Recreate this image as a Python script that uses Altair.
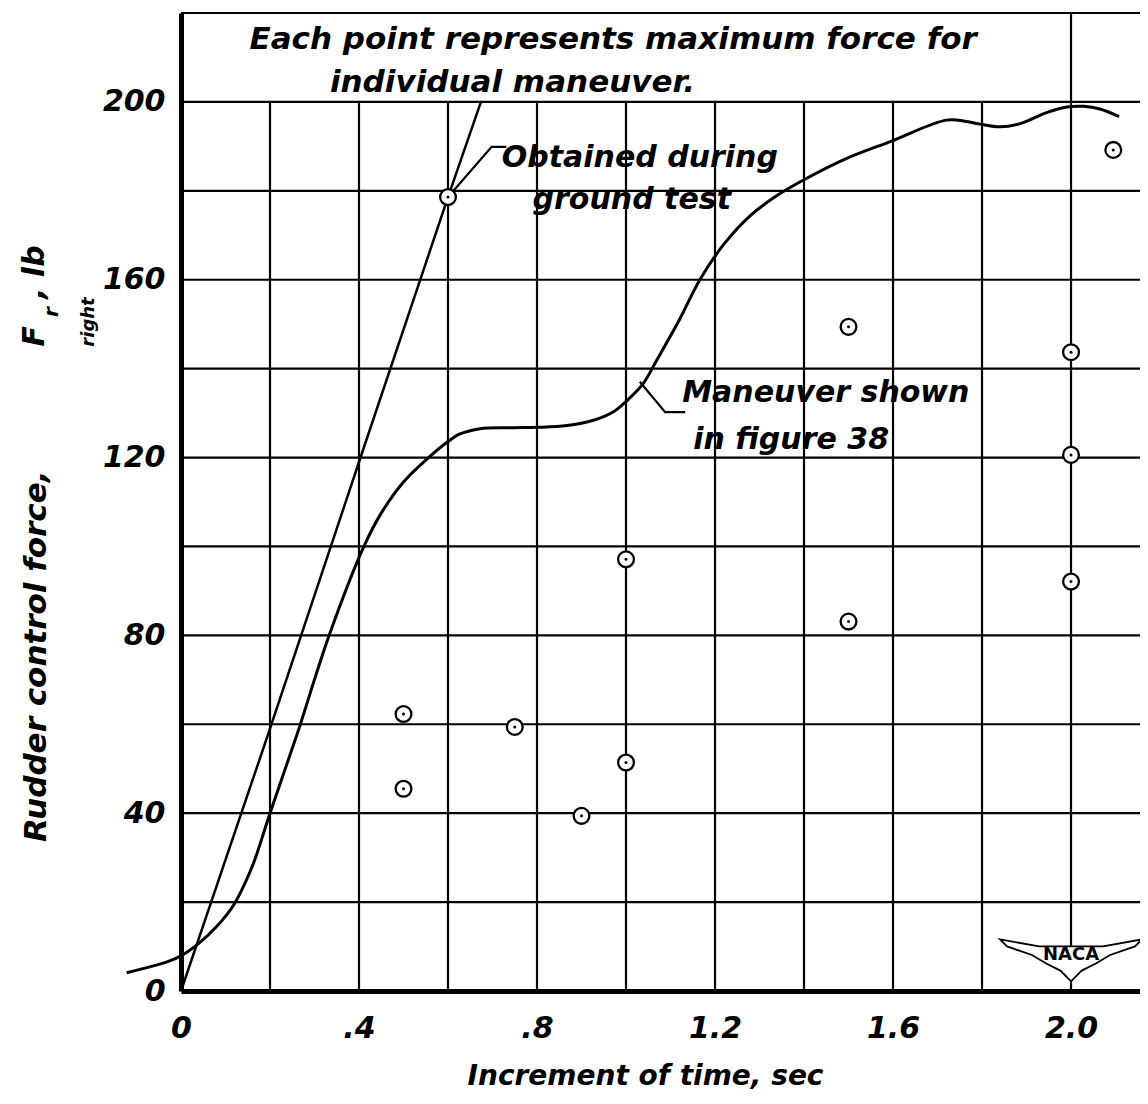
import altair as alt
import pandas as pd

# ---------------- data ----------------
# "Maneuver shown in figure 38" trace
man_x = [-0.122, -0.03, 0.0, 0.04, 0.08, 0.118, 0.16, 0.2, 0.26, 0.333, 0.411, 0.45,
         0.5, 0.552, 0.6, 0.627, 0.672, 0.747, 0.8, 0.867, 0.927, 0.972, 1.0, 1.039,
         1.069, 1.12, 1.166, 1.22, 1.28, 1.34, 1.40, 1.496, 1.597, 1.72, 1.765, 1.796,
         1.84, 1.885, 1.945, 1.995, 2.028, 2.065, 2.108]
man_y = [4.1, 6.6, 7.9, 10.7, 14.5, 19.3, 28.0, 40.0, 57.5, 80.0, 100.0, 107.5,
         114.5, 119.6, 123.6, 125.3, 126.5, 126.7, 126.8, 127.2, 128.4, 130.3, 132.6, 136.7,
         141.9, 151.0, 160.0, 168.0, 174.5, 179.0, 182.5, 187.3, 191.2, 195.9, 195.6, 195.0,
         194.4, 195.1, 197.6, 198.9, 199.0, 198.4, 196.7]

# "Obtained during ground test" trace
gnd_x = [0.0, 0.2, 0.4, 0.6, 0.674]
gnd_y = [0.0, 59.0, 119.0, 178.6, 200.0]

# maximum force for individual maneuvers
pt_x = [0.6, 0.5, 0.5, 0.75, 0.9, 1.0, 1.0, 1.5, 1.5, 2.0, 2.0, 2.0, 2.095]
pt_y = [178.6, 62.3, 45.5, 59.4, 39.4, 97.1, 51.4, 149.4, 83.1, 143.7, 120.6, 92.1, 189.2]

# axis ticks
x_tick_values = [0.0, 0.4, 0.8, 1.2, 1.6, 2.0]
x_tick_labels = ["0", ".4", ".8", "1.2", "1.6", "2.0"]
y_tick_values = [0, 40, 80, 120, 160, 200]
x_grid = [0.2, 0.4, 0.6, 0.8, 1.0, 1.2, 1.4, 1.6, 1.8, 2.0]
x_grid_top = [200, 200, 200, 200, 200, 200, 200, 200, 200, 220]
y_grid = [20, 40, 60, 80, 100, 120, 140, 160, 180, 200, 220]

X_MAX = 2.155
Y_MAX = 220

# leader lines (data coords)
gl_x = [0.6, 0.698, 0.731]
gl_y = [178.6, 189.9, 189.9]
ml_x = [1.031, 1.088, 1.133]
ml_y = [137.05, 130.2, 130.2]

# annotation texts
note_text = ["Each  point  represents  maximum  force  for",
             "individual  maneuver.",
             "Obtained  during",
             "ground  test",
             "Maneuver  shown",
             "in  figure  38"]
note_x = [0.971, 0.745, 1.031, 1.013, 1.449, 1.371]
note_y = [213.9, 204.3, 187.4, 177.9, 134.5, 123.9]
note_size = [31, 31, 30, 30, 30, 30]

# y-axis title pieces (rotated), placed left of the axis
yt_text = ["Rudder   control   force,", "F", "r", ", lb", "right"]
yt_x = [-0.3236, -0.3281, -0.2899, -0.3281, -0.2067]
yt_y = [75.3, 147.3, 152.7, 161.7, 150.5]
yt_size = [31, 30, 20, 30, 18]

logo_x = [2.0]
logo_y = [8.1]

FONT = "DejaVu Sans"

xs = alt.Scale(domain=[0, X_MAX], nice=False, zero=False)
ys = alt.Scale(domain=[0, Y_MAX], nice=False, zero=False)


def label_expr(values, labels):
    expr = "''"
    for v, l in reversed(list(zip(values, labels))):
        expr = f"abs(datum.value - {v}) < 1e-6 ? '{l}' : ({expr})"
    return expr


XAX = alt.Axis(
    values=x_tick_values, labelExpr=label_expr(x_tick_values, x_tick_labels),
    grid=False, ticks=False, domainWidth=5, domainColor="black",
    labelFont=FONT, labelFontSize=30, labelFontStyle="italic", labelFontWeight="bold",
    labelColor="black", labelPadding=22, labelFlush=False, labelOverlap=False,
    title="Increment  of  time,  sec", titleFont=FONT, titleFontSize=28,
    titleFontStyle="italic", titleFontWeight="bold", titleColor="black",
    titleX=464, titleY=85, titleAlign="center", titleBaseline="middle")
YAX = alt.Axis(
    values=y_tick_values, grid=False, ticks=False, domainWidth=5, domainColor="black",
    labelFont=FONT, labelFontSize=30, labelFontStyle="italic", labelFontWeight="bold",
    labelColor="black", labelPadding=16, labelOverlap=False, labelFlush=False,
    title=None)


def X(f):
    return alt.X(f, scale=xs, axis=XAX)


def Y(f):
    return alt.Y(f, scale=ys, axis=YAX)


# vertical grid lines
vg = pd.DataFrame({"x": x_grid, "y0": [0] * len(x_grid), "y1": x_grid_top})
vgrid = alt.Chart(vg).mark_rule(color="black", strokeWidth=2.2).encode(
    x=X("x:Q"), y=Y("y0:Q"), y2="y1:Q")

# horizontal grid lines (incl. top border)
hg = pd.DataFrame({"y": y_grid, "x0": [0] * len(y_grid), "x1": [X_MAX] * len(y_grid)})
hgrid = alt.Chart(hg).mark_rule(color="black", strokeWidth=2.2).encode(
    y=Y("y:Q"), x=X("x0:Q"), x2="x1:Q")

man = alt.Chart(pd.DataFrame({"x": man_x, "y": man_y})).mark_line(
    color="black", strokeWidth=3, interpolate="catmull-rom").encode(x=X("x:Q"), y=Y("y:Q"))

gnd = alt.Chart(pd.DataFrame({"x": gnd_x, "y": gnd_y})).mark_line(
    color="black", strokeWidth=2.5).encode(x=X("x:Q"), y=Y("y:Q"))

lead = alt.Chart(pd.DataFrame({
    "x": gl_x + ml_x, "y": gl_y + ml_y,
    "g": ["a"] * len(gl_x) + ["b"] * len(ml_x)})).mark_line(
    color="black", strokeWidth=2.2).encode(x=X("x:Q"), y=Y("y:Q"), detail="g:N")

wing_path = ("M -1 -0.22 L -0.45 -0.12 L 0.45 -0.12 L 1 -0.22 L 0.9 -0.12 L 0.55 0.0 "
             "L 0.35 0.12 L 0.15 0.22 L 0 0.37 L -0.15 0.22 L -0.35 0.12 L -0.55 0.0 "
             "L -0.9 -0.12 Z")
logo_df = pd.DataFrame({"x": logo_x, "y": logo_y, "t": ["NACA"]})
logo = alt.Chart(logo_df).mark_point(
    shape=wing_path, size=20164, filled=True, fill="white", stroke="black",
    strokeWidth=1.8, opacity=1).encode(x=X("x:Q"), y=Y("y:Q"))
logo_t = alt.Chart(logo_df).mark_text(
    font=FONT, fontSize=18, fontWeight="bold", color="black",
    align="center", baseline="middle").encode(x=X("x:Q"), y=Y("y:Q"), text="t:N")

pts_df = pd.DataFrame({"x": pt_x, "y": pt_y})
circ = alt.Chart(pts_df).mark_point(
    shape="circle", size=250, filled=True, fill="white", stroke="black",
    strokeWidth=2.3, opacity=1).encode(x=X("x:Q"), y=Y("y:Q"))
dots = alt.Chart(pts_df).mark_point(
    shape="circle", size=9, filled=True, color="black", opacity=1).encode(
    x=X("x:Q"), y=Y("y:Q"))

notes = alt.Chart(pd.DataFrame({"x": note_x, "y": note_y, "t": note_text, "s": note_size})).mark_text(
    font=FONT, fontStyle="italic", fontWeight="bold", color="black",
    align="center", baseline="middle").encode(
    x=X("x:Q"), y=Y("y:Q"), text="t:N", size=alt.Size("s:Q", scale=None, legend=None))

ytitle = alt.Chart(pd.DataFrame({"x": yt_x, "y": yt_y, "t": yt_text, "s": yt_size})).mark_text(
    font=FONT, fontStyle="italic", fontWeight="bold", color="black",
    align="center", baseline="middle", angle=270).encode(
    x=X("x:Q"), y=Y("y:Q"), text="t:N",
    size=alt.Size("s:Q", scale=None, legend=None))

chart = alt.layer(vgrid, hgrid, gnd, man, lead, logo, logo_t, circ, dots, notes, ytitle).properties(
    width=959, height=978,
    padding={"left": 173, "top": 5, "right": 0, "bottom": 100},
    autosize=alt.AutoSizeParams(type="none"),
    background="white",
).configure_view(stroke=None)

chart.save("out.html", embed_options={"renderer": "svg", "actions": False})
